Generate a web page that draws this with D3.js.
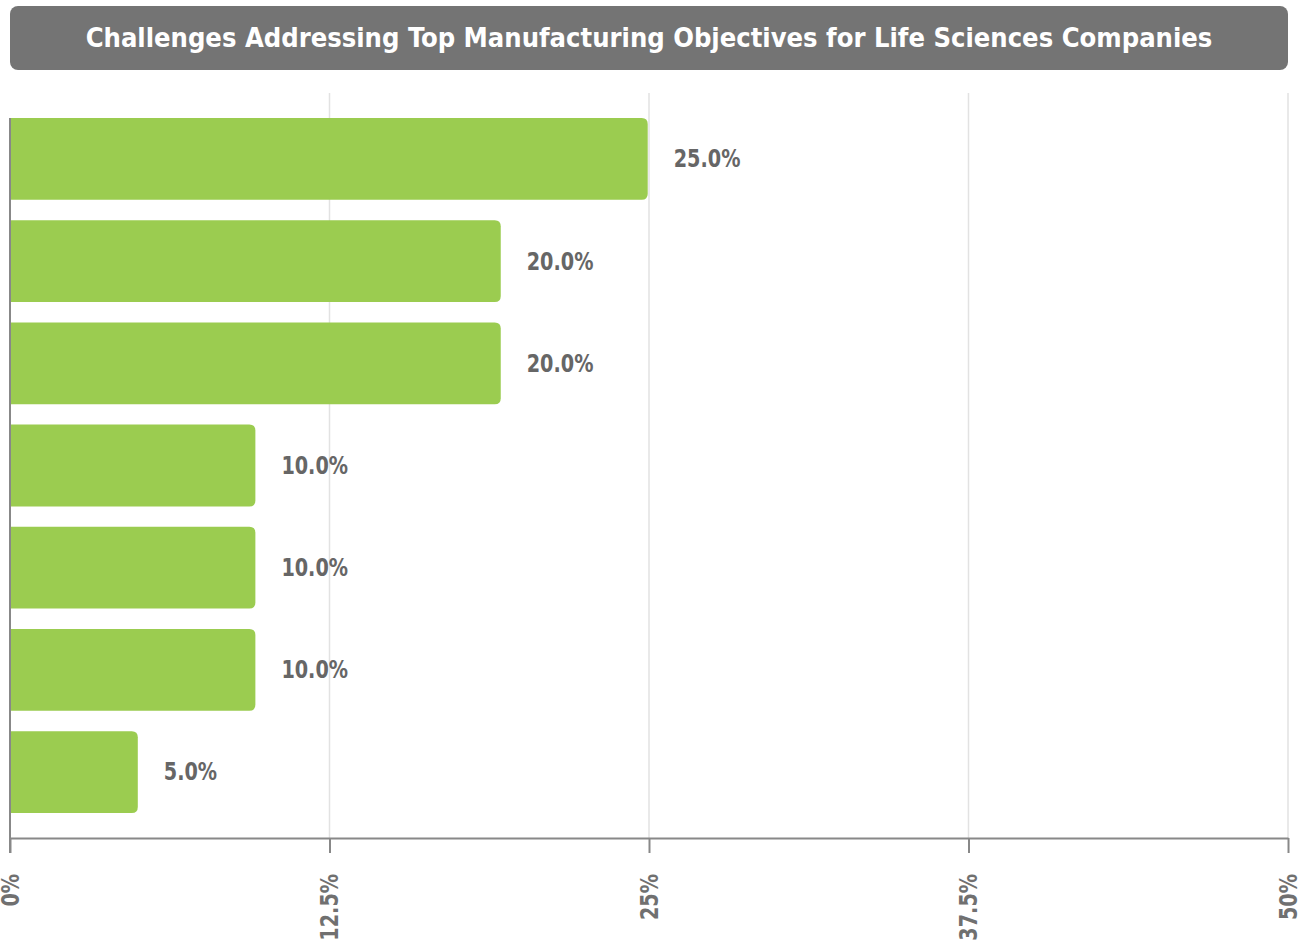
<!DOCTYPE html>
<html>
<head>
<meta charset="utf-8">
<script src="https://cdn.jsdelivr.net/npm/d3@7"></script>
<style>
  body { margin: 0; background: #fff; }
  svg text { font-family: "Liberation Sans Narrow", "DejaVu Sans Condensed", "Roboto", sans-serif; font-weight: bold; }
</style>
</head>
<body>
<div id="chart"></div>
<script>
const categories = ["c1", "c2", "c3", "c4", "c5", "c6", "c7"];
// bar lengths as drawn in the picture, and the labels printed next to them
const values = [24.95, 19.2, 19.2, 9.6, 9.6, 9.6, 5.0];
const valueLabels = ["25.0%", "20.0%", "20.0%", "10.0%", "10.0%", "10.0%", "5.0%"];
const tickValues = [0, 12.5, 25, 37.5, 50];
const tickLabels = ["0%", "12.5%", "25%", "37.5%", "50%"];
const title = "Challenges Addressing Top Manufacturing Objectives for Life Sciences Companies";

const width = 1310, height = 948;
const plotLeft = 10, plotRight = 1288, plotTop = 93, plotBottom = 838;
const squeeze = 0.89; // narrow the fallback font towards the condensed face

const svg = d3.select("#chart").append("svg")
  .attr("width", width)
  .attr("height", height);

function condense(sel, k) {
  sel.each(function () {
    const w = this.getComputedTextLength();
    d3.select(this).attr("textLength", w * k).attr("lengthAdjust", "spacingAndGlyphs");
  });
}

// title box
svg.append("rect")
  .attr("x", 10).attr("y", 6)
  .attr("width", 1278).attr("height", 64)
  .attr("rx", 8)
  .attr("fill", "#747474");
const t = svg.append("text")
  .attr("x", 649).attr("y", 38)
  .attr("dy", "0.35em")
  .attr("text-anchor", "middle")
  .attr("fill", "#fff")
  .style("font-size", "31px")
  .text(title);
// shrink the title so it spans the same width as the reference
const tw = t.node().getComputedTextLength();
if (tw > 1127) t.style("font-size", (31 * 1127 / tw) + "px");

const x = d3.scaleLinear().domain([0, 50]).range([plotLeft, plotRight]);
const y = d3.scaleBand().domain(categories).range([plotTop, plotBottom])
  .paddingInner(0.2).paddingOuter(0.245);

// gridlines
svg.append("g").selectAll("line")
  .data(tickValues.slice(1))
  .enter().append("line")
  .attr("x1", d => x(d)).attr("x2", d => x(d))
  .attr("y1", plotTop).attr("y2", plotBottom)
  .attr("stroke", "#e2e2e2").attr("stroke-width", 1.5);

// bars, rounded on the right end only
svg.append("g").selectAll("path")
  .data(categories)
  .enter().append("path")
  .attr("fill", "#9bcc50")
  .attr("d", (d, i) => {
    const x0 = x(0) + 1, x1 = x(values[i]), y0 = y(d), h = y.bandwidth(), r = 6;
    return `M${x0},${y0}H${x1 - r}Q${x1},${y0} ${x1},${y0 + r}V${y0 + h - r}Q${x1},${y0 + h} ${x1 - r},${y0 + h}H${x0}Z`;
  });

// value labels
const labels = svg.append("g").selectAll("text")
  .data(categories)
  .enter().append("text")
  .attr("x", (d, i) => x(values[i]) + 26)
  .attr("y", d => y(d) + y.bandwidth() / 2)
  .attr("dy", "0.35em")
  .attr("fill", "#666")
  .style("font-size", "24px")
  .text((d, i) => valueLabels[i]);
condense(labels, squeeze);

// x axis
const xAxis = svg.append("g")
  .attr("transform", `translate(0, ${plotBottom})`)
  .call(d3.axisBottom(x).tickValues(tickValues).tickFormat((d, i) => tickLabels[i]).tickSize(15).tickSizeOuter(0));
xAxis.select(".domain").attr("stroke", "#888").attr("stroke-width", 2);
xAxis.selectAll(".tick line").attr("stroke", "#888").attr("stroke-width", 2);
const tickText = xAxis.selectAll(".tick text")
  .attr("transform", "rotate(-90)")
  .attr("x", -36).attr("y", 0).attr("dy", "0.35em")
  .attr("text-anchor", "end")
  .attr("fill", "#707070")
  .style("font-size", "24px");
condense(tickText, squeeze);

// left axis line
svg.append("line")
  .attr("x1", x(0)).attr("x2", x(0))
  .attr("y1", y(categories[0])).attr("y2", plotBottom + 15)
  .attr("stroke", "#888").attr("stroke-width", 2);
</script>
</body>
</html>
